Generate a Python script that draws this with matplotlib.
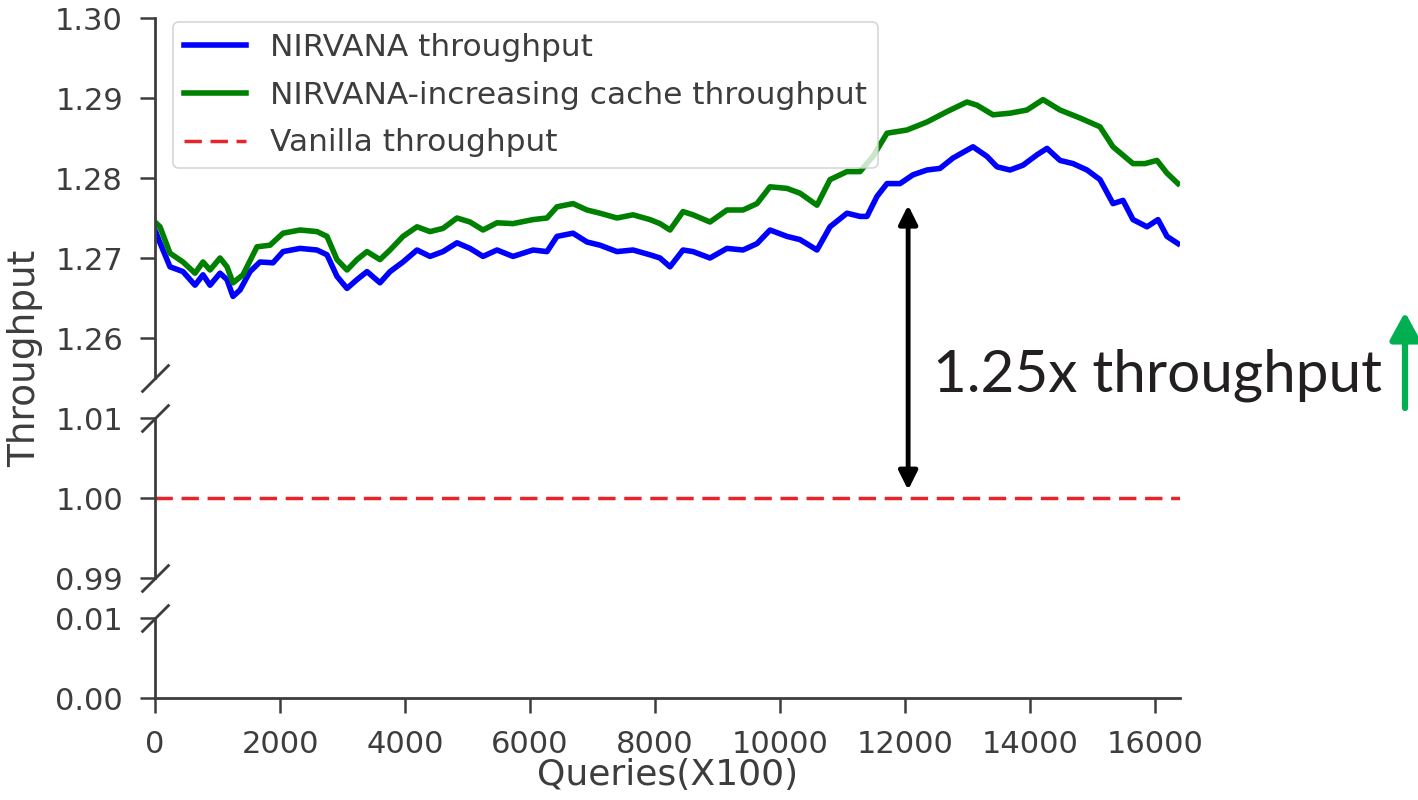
import matplotlib
matplotlib.use("Agg")
import matplotlib.pyplot as plt

# queries (x100) and throughput
queries = [0, 80, 240, 448, 640, 768, 880, 1040, 1152, 1248, 1360, 1520, 1680, 1888,
           2048, 2320, 2592, 2752, 2912, 3072, 3232, 3392, 3600, 3760, 3968, 4192,
           4400, 4608, 4832, 5040, 5248, 5472, 5728, 6048, 6272, 6432, 6688, 6912,
           7120, 7392, 7648, 7920, 8080, 8240, 8448, 8608, 8880, 9152, 9408, 9632,
           9840, 10112, 10320, 10592, 10800, 11072, 11280, 11392, 11552, 11712,
           11920, 12128, 12352, 12560, 12768, 13088, 13312, 13472, 13680, 13888,
           14112, 14272, 14480, 14688, 14912, 15120, 15328, 15488, 15648, 15872,
           16048, 16192, 16368]

nirvana = [1.2735, 1.2719, 1.2689, 1.2683, 1.2666, 1.2679, 1.2666, 1.2681, 1.2673,
           1.2652, 1.2660, 1.2683, 1.2695, 1.2694, 1.2708, 1.2712, 1.2710, 1.2704,
           1.2677, 1.2662, 1.2673, 1.2683, 1.2669, 1.2683, 1.2695, 1.2710, 1.2702,
           1.2708, 1.2719, 1.2712, 1.2702, 1.2710, 1.2702, 1.2710, 1.2708, 1.2727,
           1.2731, 1.2720, 1.2716, 1.2708, 1.2710, 1.2704, 1.2700, 1.2689, 1.2710,
           1.2708, 1.2700, 1.2712, 1.2710, 1.2718, 1.2735, 1.2727, 1.2723, 1.2710,
           1.2739, 1.2756, 1.2752, 1.2752, 1.2777, 1.2793, 1.2793, 1.2804, 1.2810,
           1.2812, 1.2825, 1.2839, 1.2827, 1.2814, 1.2810, 1.2816, 1.2829, 1.2837,
           1.2822, 1.2818, 1.2810, 1.2798, 1.2768, 1.2772, 1.2748, 1.2739, 1.2748,
           1.2727, 1.2718]

queries_cache = [0, 80, 240, 448, 640, 768, 880, 1040, 1152, 1248, 1408, 1632, 1840,
                 2048, 2320, 2592, 2752, 2912, 3072, 3232, 3392, 3600, 3760, 3968,
                 4192, 4400, 4608, 4832, 5040, 5248, 5472, 5728, 6048, 6272, 6432,
                 6688, 6912, 7120, 7392, 7648, 7920, 8080, 8240, 8448, 8608, 8880,
                 9152, 9408, 9632, 9840, 10112, 10320, 10592, 10800, 11072, 11280,
                 11488, 11712, 12032, 12352, 12672, 12992, 13152, 13408, 13680,
                 13952, 14208, 14480, 14800, 15120, 15328, 15648, 15840, 16032,
                 16192, 16368]

nirvana_cache = [1.2745, 1.2739, 1.2706, 1.2695, 1.2681, 1.2695, 1.2685, 1.2700,
                 1.2689, 1.2669, 1.2679, 1.2714, 1.2716, 1.2731, 1.2735, 1.2733,
                 1.2727, 1.2698, 1.2685, 1.2698, 1.2708, 1.2698, 1.2710, 1.2727,
                 1.2739, 1.2733, 1.2737, 1.2750, 1.2745, 1.2735, 1.2744, 1.2743,
                 1.2748, 1.2750, 1.2764, 1.2768, 1.2760, 1.2756, 1.2750, 1.2754,
                 1.2748, 1.2743, 1.2735, 1.2758, 1.2754, 1.2745, 1.2760, 1.2760,
                 1.2768, 1.2789, 1.2787, 1.2781, 1.2766, 1.2798, 1.2808, 1.2808,
                 1.2827, 1.2856, 1.2860, 1.2870, 1.2883, 1.2895, 1.2891, 1.2879,
                 1.2881, 1.2885, 1.2898, 1.2885, 1.2875, 1.2864, 1.2839, 1.2818,
                 1.2818, 1.2822, 1.2806, 1.2793]

vanilla_x = [0, 16400]
vanilla = [1.0, 1.0]

# the three pieces of the broken y axis
limits = [(1.255, 1.30), (0.99, 1.01), (0.0, 0.01)]
ticks = [[1.26, 1.27, 1.28, 1.29, 1.30], [0.99, 1.00, 1.01], [0.00, 0.01]]
xticks = [0, 2000, 4000, 6000, 8000, 10000, 12000, 14000, 16000]

grey = '#3d3d3d'
plt.rcParams['font.family'] = 'DejaVu Sans'
plt.rcParams['font.size'] = 22
plt.rcParams['text.color'] = grey
plt.rcParams['axes.edgecolor'] = grey
plt.rcParams['xtick.color'] = grey
plt.rcParams['ytick.color'] = grey

fig = plt.figure(figsize=(14.18, 8), dpi=100)
L, W = 155 / 1418, 1025 / 1418
ax_top = fig.add_axes([L, 0.5275, W, 0.45])
ax_mid = fig.add_axes([L, 0.2775, W, 0.2])
ax_bot = fig.add_axes([L, 0.1275, W, 0.1])
axes = [ax_top, ax_mid, ax_bot]

for ax, lim, tk in zip(axes, limits, ticks):
    ax.patch.set_visible(False)
    ax.plot(queries, nirvana, color='blue', lw=4, label='NIRVANA throughput')
    ax.plot(queries_cache, nirvana_cache, color='green', lw=4,
            label='NIRVANA-increasing cache throughput')
    ax.plot(vanilla_x, vanilla, color='#e8242a', lw=2.5, dashes=(5, 2.5),
            label='Vanilla throughput')
    ax.set_xlim(0, 16400)
    ax.set_ylim(*lim)
    ax.set_yticks(tk)
    ax.set_yticklabels(['%.2f' % t for t in tk])
    for s in ['top', 'right']:
        ax.spines[s].set_visible(False)
    ax.spines['left'].set_linewidth(2)
    ax.spines['bottom'].set_linewidth(2)
    ax.tick_params(length=11, width=1.8, pad=12, labelsize=22)

for ax in [ax_top, ax_mid]:
    ax.spines['bottom'].set_visible(False)
    ax.set_xticks([])

ax_bot.set_xticks(xticks)
ax_bot.set_xticklabels([str(t) for t in xticks])

# break marks on the left spine
brk = dict(marker=[(-1, -1), (1, 1)], markersize=20, linestyle='none',
           color=grey, mec=grey, mew=2, clip_on=False)
ax_top.plot([0], [0], transform=ax_top.transAxes, **brk)
ax_mid.plot([0, 0], [0, 1], transform=ax_mid.transAxes, **brk)
ax_bot.plot([0], [1], transform=ax_bot.transAxes, **brk)

leg = ax_top.legend(loc='upper left', bbox_to_anchor=(18 / 1025, 1 - 4 / 360),
                    borderaxespad=0, fontsize=22.5, handlelength=2.0,
                    handletextpad=0.75, labelspacing=0.6, borderpad=0.35)
leg.get_frame().set_linewidth(1.2)

fig.text(25 / 1418, 1 - 358 / 800, 'Throughput', rotation=90, ha='center',
         va='center', fontsize=27)
fig.text(668 / 1418, 1 - 775 / 800, 'Queries(X100)', ha='center', va='center',
         fontsize=26)

# 1.25x gap annotation
ax_top.annotate('', xy=(12050, 1.2766), xycoords='data',
                xytext=(12050, 1.001), textcoords=ax_mid.transData,
                arrowprops=dict(arrowstyle='<|-|>', color='black', lw=3.5,
                                mutation_scale=28, shrinkA=0, shrinkB=0),
                annotation_clip=False)
fig.text(933 / 1418, 1 - 392 / 800, '1.25x throughput', family='Lato',
         fontsize=42, color='#231f20', ha='left', va='baseline')
ax_top.annotate('', xy=(1405 / 1418, 1 - 312 / 800), xycoords='figure fraction',
                xytext=(1405 / 1418, 1 - 408 / 800), textcoords='figure fraction',
                arrowprops=dict(arrowstyle='-|>,head_length=0.55,head_width=0.3',
                                color='#00b050', lw=4.5, mutation_scale=30,
                                shrinkA=0, shrinkB=0),
                annotation_clip=False)

fig.savefig('out.png', dpi=100)
